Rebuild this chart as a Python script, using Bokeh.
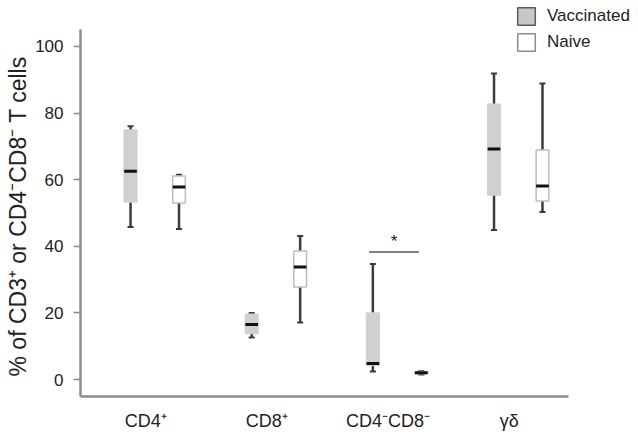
from bokeh.plotting import figure
from bokeh.models import FixedTicker, Legend, LegendItem, ColumnDataSource, Range1d, Title
from bokeh.embed import file_html
from bokeh.resources import INLINE
from bokeh.core.properties import value

# ---- data ----
categories = ["CD4\u207a", "CD8\u207a", "CD4\u207bCD8\u207b", "\u03b3\u03b4"]
vacc_min = [45.8, 12.6, 2.4, 44.9]
vacc_q1 = [53.3, 13.8, 4.3, 55.4]
vacc_med = [62.5, 16.5, 4.8, 69.2]
vacc_q3 = [74.9, 19.6, 20.0, 82.6]
vacc_max = [76.0, 20.0, 34.7, 91.9]

naive_min = [45.2, 17.1, 1.5, 50.3]
naive_q1 = [53.0, 27.8, 1.7, 53.6]
naive_med = [57.8, 33.8, 2.0, 58.1]
naive_q3 = [61.1, 38.6, 2.3, 68.9]
naive_max = [61.5, 43.1, 2.5, 88.9]

significant_group = 2
y_ticks = [0, 20, 40, 60, 80, 100]
y_title = "% of CD3\u207a or CD4\u207bCD8\u207b T cells"

FONT = "Liberation Sans"
group_pos = list(range(len(categories)))
v_off, n_off = -0.125, 0.275
box_w = 0.105
cap_w = 0.05

# visible axis extent
x_lo, x_hi = -0.538, 3.49
y_lo, y_hi = -5.1, 105.1

p = figure(width=636, height=433, output_backend="svg", toolbar_location=None,
           x_range=Range1d(x_lo, 4.051), y_range=Range1d(y_lo, 113.78),
           min_border_left=80, min_border_right=0, min_border_top=0,
           min_border_bottom=36)
p.outline_line_color = None
p.xgrid.visible = False
p.ygrid.visible = False
p.background_fill_color = "white"


def draw_boxes(xs, mn, q1, med, q3, mx, fill, line):
    src = ColumnDataSource(dict(x=xs, mn=mn, q1=q1, med=med, q3=q3, mx=mx,
                                c0=[x - cap_w / 2 for x in xs],
                                c1=[x + cap_w / 2 for x in xs],
                                m0=[x - box_w / 2 for x in xs],
                                m1=[x + box_w / 2 for x in xs]))
    p.segment(x0="x", y0="q3", x1="x", y1="mx", source=src, line_color="#3c3c3c", line_width=2.5)
    p.segment(x0="x", y0="q1", x1="x", y1="mn", source=src, line_color="#3c3c3c", line_width=2.5)
    p.segment(x0="c0", y0="mx", x1="c1", y1="mx", source=src, line_color="#3c3c3c", line_width=2)
    p.segment(x0="c0", y0="mn", x1="c1", y1="mn", source=src, line_color="#3c3c3c", line_width=2)
    p.vbar(x="x", width=box_w, top="q3", bottom="q1", source=src,
           fill_color=fill, line_color=line, line_width=1.5)
    p.segment(x0="m0", y0="med", x1="m1", y1="med", source=src, line_color="#111111", line_width=3)


vx = [g + v_off for g in group_pos]
nx = [g + n_off for g in group_pos]
draw_boxes(vx, vacc_min, vacc_q1, vacc_med, vacc_q3, vacc_max, "#d0d0d0", "#d0d0d0")
draw_boxes(nx, naive_min, naive_q1, naive_med, naive_q3, naive_max, "white", "#bdbdbd")

# significance bar
g = significant_group
sig_y = max(vacc_max[g], naive_max[g]) + 3.6
sx0 = vx[g] - 0.03
sx1 = nx[g] - 0.02
p.segment(x0=[sx0], y0=[sig_y], x1=[sx1], y1=[sig_y], line_color="#555555", line_width=1.5)
p.text(x=[(sx0 + sx1) / 2], y=[sig_y + 0.2], text=["*"], text_align="center",
       text_baseline="bottom", text_font=value(FONT), text_font_size="17px",
       text_color="#222222")

# axes
for ax in (p.xaxis, p.yaxis):
    ax.axis_line_color = "#8c8c8c"
    ax.axis_line_width = 2.5
    ax.major_label_text_font = FONT
    ax.major_label_text_color = "#222222"
    ax.minor_tick_line_color = None

p.xaxis.bounds = (x_lo, x_hi)
p.xaxis.ticker = FixedTicker(ticks=group_pos)
p.xaxis.major_label_overrides = {i: c for i, c in zip(group_pos, categories)}
p.xaxis.major_tick_line_color = None
p.xaxis.major_tick_out = 0
p.xaxis.major_tick_in = 0
p.xaxis.major_label_standoff = 14
p.xaxis.major_label_text_font_size = "18px"

p.yaxis.bounds = (y_lo, y_hi)
p.yaxis.ticker = FixedTicker(ticks=y_ticks)
p.yaxis.major_tick_line_color = "#8c8c8c"
p.yaxis.major_tick_line_width = 1.5
p.yaxis.major_tick_out = 7
p.yaxis.major_tick_in = 0
p.yaxis.major_label_standoff = 10
p.yaxis.major_label_text_font_size = "17px"

# y axis title, anchored at the bottom of the frame (frame extends above axis for the legend)
yt = Title(text=y_title, align="left", offset=20, standoff=2,
           text_font=FONT, text_font_style="normal", text_font_size="23px",
           text_color="#222222", vertical_align="middle")
p.add_layout(yt, "left")

# legend (off-screen renderers carry legend styling)
lv = p.vbar(x=[-100], top=[0], width=0.1, fill_color="#c8c8c8", line_color="#5a5a5a", line_width=1.5)
ln = p.vbar(x=[-100], top=[0], width=0.1, fill_color="white", line_color="#8c8c8c", line_width=1.5)
legend = Legend(items=[LegendItem(label="Vaccinated", renderers=[lv]),
                       LegendItem(label="Naive", renderers=[ln])],
                location=(435, 343), orientation="vertical",
                glyph_width=22, glyph_height=22, spacing=4, padding=0, margin=0,
                label_standoff=10, label_text_font=FONT, label_text_font_size="17px",
                label_text_color="#222222", border_line_color=None,
                background_fill_alpha=0)
p.add_layout(legend, "center")

open("out.html", "w").write(file_html(p, INLINE))
